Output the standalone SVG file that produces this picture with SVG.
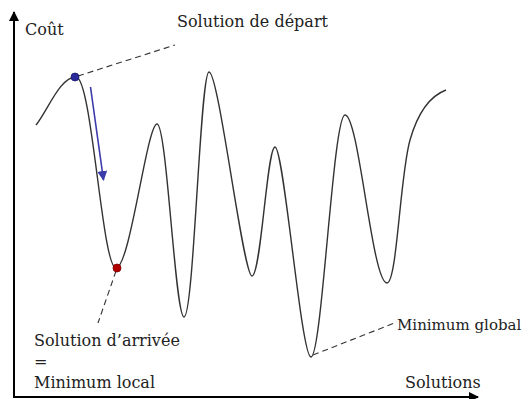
<svg xmlns="http://www.w3.org/2000/svg" width="528" height="399" viewBox="0 0 528 399">
<defs>
<style>
.lbl{font-family:"DejaVu Serif","Liberation Serif",serif;font-size:16px;fill:#222}
.dash{fill:none;stroke:#333;stroke-width:1.1;stroke-dasharray:6 4}
.curve{fill:none;stroke:#333;stroke-width:1.4}
.axis{fill:none;stroke:#000;stroke-width:2}
</style>
<marker id="ah" markerWidth="10" markerHeight="10" refX="9" refY="5" orient="auto" markerUnits="userSpaceOnUse"><path d="M0,0 L10,5 L0,10 Z" fill="#000"/></marker>
<marker id="bh" markerWidth="10" markerHeight="10" refX="9" refY="5" orient="auto" markerUnits="userSpaceOnUse"><path d="M0,0 L10,5 L0,10 Z" fill="#3a3aaa"/></marker>
</defs>
<rect width="528" height="399" fill="#fff"/>
<g id="axes">
<line class="axis" x1="14" y1="397" x2="14" y2="12" marker-end="url(#ah)"/>
<line class="axis" x1="13" y1="397" x2="478" y2="397" marker-end="url(#ah)"/>
<text class="lbl" x="25" y="35">Coût</text>
<text class="lbl" x="405" y="388">Solutions</text>
</g>
<g id="curve">
<path class="curve" d="M36,125 C48,110 60,77 76,77 C92,77 102,268 116,268 C130,268 147,124 157,124 C167,124 175,317 184,317 C194,317 200,72 209,72 C219,72 243,276 252,276 C261,276 267,147 275,147 C284,147 301,357 311,357 C322,357 333,115 345,115 C359,115 372,283 387,283 C397,283 400,175 410,140 C418,112 430,96 446,90"/>
</g>
<g id="connectors">
<line class="dash" x1="78" y1="76" x2="175" y2="45"/>
<line class="dash" x1="116" y1="271" x2="98" y2="323"/>
<line class="dash" x1="313" y1="355" x2="397" y2="322"/>
<line x1="90.5" y1="87" x2="103.5" y2="180" stroke="#3a3aaa" stroke-width="1.6" marker-end="url(#bh)"/>
</g>
<g id="start">
<circle cx="75" cy="77" r="4" fill="#2a2a9a" stroke="#1a1a70" stroke-width="0.8"/>
<text class="lbl" x="177" y="27">Solution de départ</text>
</g>
<g id="end">
<circle cx="117" cy="268" r="4" fill="#b00000" stroke="#800000" stroke-width="0.8"/>
<text class="lbl" x="34" y="346">Solution d’arrivée</text>
<text class="lbl" x="34" y="367">=</text>
<text class="lbl" x="34" y="388">Minimum local</text>
</g>
<g id="global">
<text class="lbl" x="397" y="330" style="font-size:15px">Minimum global</text>
</g>
</svg>
